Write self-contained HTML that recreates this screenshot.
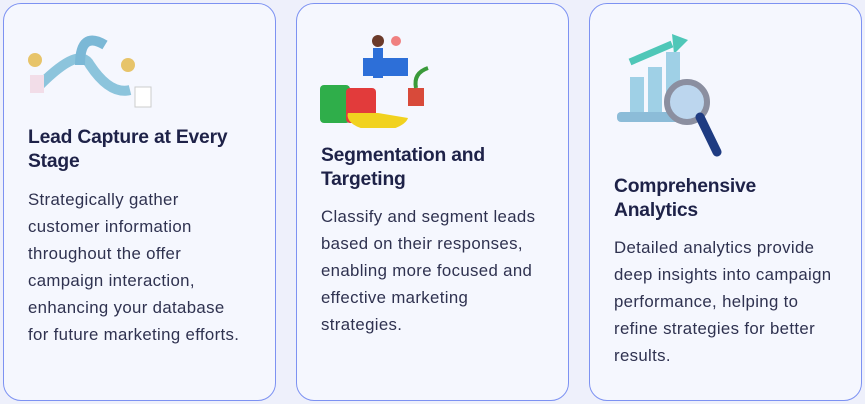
<!DOCTYPE html>
<html><head><meta charset="utf-8"><style>
body{margin:0;width:865px;height:404px;background:#eef0fb;position:relative;overflow:hidden;font-family:"Liberation Sans",sans-serif}
.card{position:absolute;top:3px;width:273px;height:398px;background:#f5f7fe;border:1px solid #7d92f2;border-radius:18px;box-sizing:border-box}
.t{position:absolute;font-weight:bold;font-size:19.3px;line-height:24px;color:#1e2248;letter-spacing:-0.2px;white-space:nowrap}
.b{position:absolute;font-size:16.8px;line-height:27px;color:#2f3250;letter-spacing:0.35px;white-space:nowrap}
</style></head><body>
<div class="card" style="left:3px"></div>
<div class="card" style="left:296px"></div>
<div class="card" style="left:589px"></div>

<svg style="position:absolute;left:20px;top:25px" width="140" height="90">
<path d="M20 60 Q60 20 70 40 Q90 70 110 65" stroke="#8cc4dc" stroke-width="10" fill="none"/>
<path d="M60 40 Q60 5 85 20" stroke="#7bb8d6" stroke-width="10" fill="none"/>
<circle cx="15" cy="35" r="7" fill="#e7c46a"/><circle cx="108" cy="40" r="7" fill="#e7c46a"/>
<rect x="115" y="62" width="16" height="20" fill="#fff" stroke="#ccc"/>
<rect x="10" y="50" width="14" height="18" fill="#f2dde8"/>
</svg>

<svg style="position:absolute;left:318px;top:33px" width="125" height="95">
<rect x="2" y="52" width="30" height="38" rx="4" fill="#2fae4a"/>
<rect x="28" y="55" width="30" height="35" rx="4" fill="#e23b3b"/>
<path d="M30 80 A30 15 0 0 0 90 85 L60 80Z" fill="#f1d21f"/>
<rect x="45" y="25" width="45" height="18" fill="#2d6fd8"/>
<circle cx="60" cy="8" r="6" fill="#6b3a2a"/><rect x="55" y="15" width="10" height="30" fill="#2d6fd8"/>
<rect x="90" y="55" width="16" height="18" fill="#d84a3a"/><path d="M98 55 Q95 40 110 35" stroke="#3a9a3a" stroke-width="4" fill="none"/>
<circle cx="78" cy="8" r="5" fill="#f08080"/>
</svg>

<svg style="position:absolute;left:612px;top:22px" width="140" height="140">
<path d="M18 40 L60 22" stroke="#4fc7b8" stroke-width="7"/><path d="M60 12 L76 18 L62 32Z" fill="#4fc7b8"/>
<rect x="18" y="55" width="14" height="40" fill="#9fd0e6"/><rect x="36" y="45" width="14" height="50" fill="#9fd0e6"/><rect x="54" y="30" width="14" height="65" fill="#9fd0e6"/>
<rect x="5" y="90" width="80" height="10" rx="4" fill="#8cbcd8"/>
<circle cx="75" cy="80" r="20" fill="#bcd6ee" stroke="#8b8fa0" stroke-width="6"/>
<path d="M88 95 L105 130" stroke="#1f3c82" stroke-width="9" stroke-linecap="round"/>
</svg>

<div class="t" style="left:28px;top:126px">Lead Capture at Every<br>Stage</div>
<div class="b" style="left:28px;top:186px">Strategically gather<br>customer information<br>throughout the offer<br>campaign interaction,<br>enhancing your database<br>for future marketing efforts.</div>

<div class="t" style="left:321px;top:144px">Segmentation and<br>Targeting</div>
<div class="b" style="left:321px;top:203px">Classify and segment leads<br>based on their responses,<br>enabling more focused and<br>effective marketing<br>strategies.</div>

<div class="t" style="left:614px;top:175px">Comprehensive<br>Analytics</div>
<div class="b" style="left:614px;top:234px">Detailed analytics provide<br>deep insights into campaign<br>performance, helping to<br>refine strategies for better<br>results.</div>
</body></html>
